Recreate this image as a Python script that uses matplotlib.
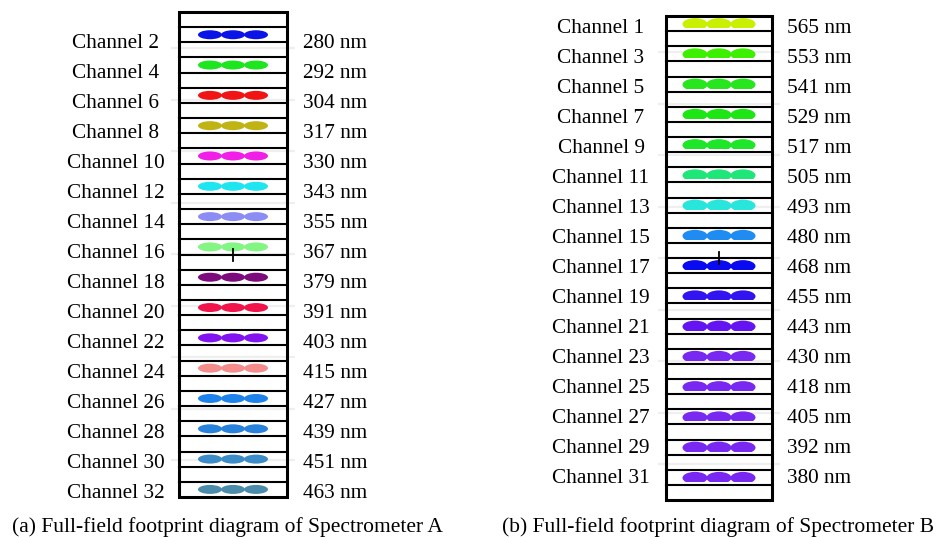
import matplotlib.pyplot as plt
from matplotlib.patches import Ellipse, Rectangle

# spectrometer A: even channels
chan_a = [2, 4, 6, 8, 10, 12, 14, 16, 18, 20, 22, 24, 26, 28, 30, 32]
wl_a = [280, 292, 304, 317, 330, 343, 355, 367, 379, 391, 403, 415, 427, 439, 451, 463]
col_a = ['#0a14e6', '#1ee61e', '#f01414', '#c0b414', '#f01ee6', '#1ee6f0',
         '#8c8cf5', '#82f582', '#7d0a7d', '#f0144b', '#8214f0', '#f58c8c',
         '#1e82eb', '#2882dc', '#3c8cc8', '#4b8caa']

# spectrometer B: odd channels
chan_b = [1, 3, 5, 7, 9, 11, 13, 15, 17, 19, 21, 23, 25, 27, 29, 31]
wl_b = [565, 553, 541, 529, 517, 505, 493, 480, 468, 455, 443, 430, 418, 405, 392, 380]
col_b = ['#c8f000', '#3cf000', '#28e61e', '#1ee614', '#1ee628', '#1ee678',
         '#28e6dc', '#1e8cf0', '#0a0af0', '#3214f0', '#6414f0', '#7828f0',
         '#7828f0', '#7828f0', '#7828f0', '#7828f0']

captions = ['(a) Full-field footprint diagram of Spectrometer A',
            '(b) Full-field footprint diagram of Spectrometer B']

FONT = ['Liberation Serif', 'DejaVu Serif']
FS = 15.3

fig = plt.figure(figsize=(9.36, 5.37), dpi=100)
ax = fig.add_axes([0, 0, 1, 1])
ax.set_xlim(0, 936)
ax.set_ylim(537, 0)
ax.axis('off')


def draw_panel(ax, chans, wls, cols, x0, x1, top, bot, odd_cells,
               lab_x, wl_x, base0, base1, dome=False):
    n = len(chans)
    ncell = 2 * n
    h = (bot - top) / ncell
    xc = (x0 + x1) / 2

    # faint scan shadows
    y = top + 36
    while y < bot:
        ax.plot([x0 - 8, x1 + 8], [y, y], color='#efefef', lw=1.6,
                zorder=0, solid_capstyle='butt')
        y += 51.5

    # cell lines
    for k in range(1, ncell):
        yy = top + k * h
        ax.plot([x0, x1], [yy, yy], color='black', lw=1.5, zorder=3)
    ax.add_patch(Rectangle((x0, top), x1 - x0, bot - top, fill=False,
                           ec='black', lw=2.2, zorder=4))

    step = (base1 - base0) / (n - 1)
    for i, (c, w, col) in enumerate(zip(chans, wls, cols)):
        k = 2 * i + 1 if odd_cells else 2 * i
        ct = top + k * h
        cb = ct + h
        for dx in (-1, 0, 1):
            if dome:
                # flat-bottomed spots
                e = Ellipse((xc + dx * 24, cb - 7), 25, 12, fc=col,
                            ec='none', zorder=2)
                clip = Rectangle((x0, ct), x1 - x0, h - 3,
                                 transform=ax.transData)
                ax.add_patch(e)
                e.set_clip_path(clip)
            else:
                ax.add_patch(Ellipse((xc + dx * 23, ct + h / 2), 24, 9,
                                     fc=col, ec='none', zorder=2))
        yb = base0 + i * step
        ax.text(lab_x, yb, 'Channel %d' % c, ha='center', va='baseline',
                family=FONT, fontsize=FS)
        ax.text(wl_x, yb, '%d nm' % w, ha='left', va='baseline',
                family=FONT, fontsize=FS)

    # optical axis cross
    ym = top + n * h
    ax.plot([xc, xc], [ym - 6, ym + 6], color='black', lw=1.3, zorder=5)
    ax.plot([xc - 4.5, xc + 4.5], [ym, ym], color='black', lw=1.3, zorder=5)


draw_panel(ax, chan_a, wl_a, col_a, 179, 287, 12, 497, True,
           116, 303, 48, 498)
draw_panel(ax, chan_b, wl_b, col_b, 666, 772, 16, 500, False,
           601, 787, 33, 483, dome=True)

ax.text(12, 532, captions[0], ha='left', va='baseline', family=FONT,
        fontsize=15.5)
ax.text(502, 532, captions[1], ha='left', va='baseline', family=FONT,
        fontsize=15.5)

fig.savefig('out.png', dpi=100)
